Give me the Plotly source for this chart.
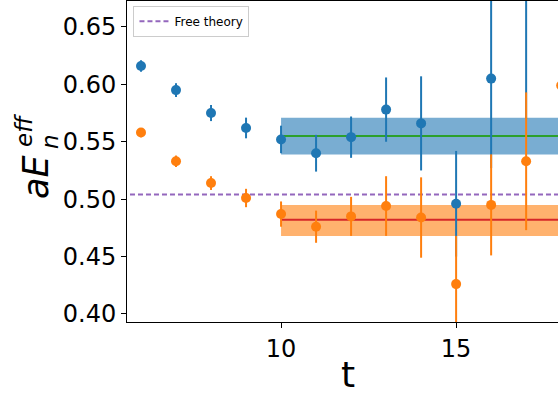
import plotly.graph_objects as go

# ---- data ----
t_blue = [6, 7, 8, 9, 10, 11, 12, 13, 14, 15, 16, 17]
blue_y = [0.616, 0.595, 0.575, 0.562, 0.552, 0.540, 0.554, 0.578, 0.566, 0.496, 0.605, 0.700]
blue_err = [0.005, 0.006, 0.007, 0.009, 0.012, 0.016, 0.018, 0.028, 0.041, 0.046, 0.078, 0.130]

t_orange = [6, 7, 8, 9, 10, 11, 12, 13, 14, 15, 16, 17, 18]
orange_y = [0.558, 0.533, 0.514, 0.501, 0.487, 0.476, 0.485, 0.494, 0.484, 0.426, 0.495, 0.533, 0.599]
orange_err = [0.004, 0.005, 0.006, 0.008, 0.011, 0.014, 0.017, 0.026, 0.035, 0.042, 0.044, 0.060, 0.050]

fit_t = [10, 20]
blue_fit = 0.555
blue_fit_lo, blue_fit_hi = 0.539, 0.571
orange_fit = 0.482
orange_fit_lo, orange_fit_hi = 0.468, 0.495

free_theory = 0.504
free_t = [5, 20]

y_ticks = [0.40, 0.45, 0.50, 0.55, 0.60, 0.65]
x_ticks = [10, 15]

BLUE = "#1f77b4"
ORANGE = "#ff7f0e"
FONT = "DejaVu Sans"

fig = go.Figure()

# fit bands
fig.add_trace(go.Scatter(
    x=[fit_t[0], fit_t[1], fit_t[1], fit_t[0], fit_t[0]],
    y=[blue_fit_lo, blue_fit_lo, blue_fit_hi, blue_fit_hi, blue_fit_lo],
    fill="toself", fillcolor="rgba(31,119,180,0.6)", line=dict(width=0),
    mode="lines", showlegend=False, hoverinfo="skip"))
fig.add_trace(go.Scatter(
    x=[fit_t[0], fit_t[1], fit_t[1], fit_t[0], fit_t[0]],
    y=[orange_fit_lo, orange_fit_lo, orange_fit_hi, orange_fit_hi, orange_fit_lo],
    fill="toself", fillcolor="rgba(255,127,14,0.6)", line=dict(width=0),
    mode="lines", showlegend=False, hoverinfo="skip"))

# fit lines
fig.add_trace(go.Scatter(x=fit_t, y=[blue_fit] * 2, mode="lines",
                         line=dict(color="#2ca02c", width=2), showlegend=False))
fig.add_trace(go.Scatter(x=fit_t, y=[orange_fit] * 2, mode="lines",
                         line=dict(color="#d62728", width=2), showlegend=False))

# free theory
fig.add_trace(go.Scatter(x=free_t, y=[free_theory] * 2, mode="lines",
                         line=dict(color="#9467bd", width=2, dash="5px,3px"),
                         name="Free theory", showlegend=True))

# data points
fig.add_trace(go.Scatter(
    x=t_blue, y=blue_y, mode="markers",
    marker=dict(color=BLUE, size=10),
    error_y=dict(type="data", array=blue_err, color=BLUE, thickness=2, width=0),
    showlegend=False))
fig.add_trace(go.Scatter(
    x=t_orange, y=orange_y, mode="markers",
    marker=dict(color=ORANGE, size=10),
    error_y=dict(type="data", array=orange_err, color=ORANGE, thickness=2, width=0),
    showlegend=False))

fig.update_layout(
    width=558, height=396,
    margin=dict(l=127, r=0, t=1, b=74),
    paper_bgcolor="white", plot_bgcolor="white",
    font=dict(family=FONT, color="black"),
    legend=dict(x=0.015, y=0.985, xanchor="left", yanchor="top",
                bgcolor="white", bordercolor="#cccccc", borderwidth=1,
                font=dict(size=12, family=FONT), itemwidth=30,
                tracegroupgap=0),
    xaxis=dict(range=[5.6, 17.91], tickvals=x_ticks, ticktext=[str(v) for v in x_ticks],
               showgrid=False, zeroline=False, showline=True, linecolor="black",
               linewidth=1, mirror=True, ticks="outside", ticklen=5, tickcolor="black",
               tickfont=dict(size=24, family=FONT)),
    yaxis=dict(range=[0.393, 0.6726], tickvals=y_ticks,
               ticktext=[f"{v:.2f}" for v in y_ticks],
               showgrid=False, zeroline=False, showline=True, linecolor="black",
               linewidth=1, ticks="outside", ticklen=5, tickcolor="black",
               tickfont=dict(size=24, family=FONT)),
    showlegend=True,
)

# axis titles (as annotations for precise placement)
def py(pix):
    # convert pixel y (from top of window) to paper coordinate
    return (322 - pix) / 321.0

def px(pix):
    return (pix - 127) / 431.0

fig.add_annotation(text="t", xref="paper", yref="paper", x=px(348), y=py(375),
                   showarrow=False, font=dict(size=36, family=FONT),
                   xanchor="center", yanchor="middle")
fig.add_annotation(text="<i>aE</i>", xref="paper", yref="paper", x=px(36), y=py(177),
                   showarrow=False, textangle=-90, font=dict(size=35, family=FONT),
                   xanchor="center", yanchor="middle")
fig.add_annotation(text="<i>eff</i>", xref="paper", yref="paper", x=px(24), y=py(131),
                   showarrow=False, textangle=-90, font=dict(size=23, family=FONT),
                   xanchor="center", yanchor="middle")
fig.add_annotation(text="<i>n</i>", xref="paper", yref="paper", x=px(50), y=py(142),
                   showarrow=False, textangle=-90, font=dict(size=23, family=FONT),
                   xanchor="center", yanchor="middle")

fig.write_html("out.html")
